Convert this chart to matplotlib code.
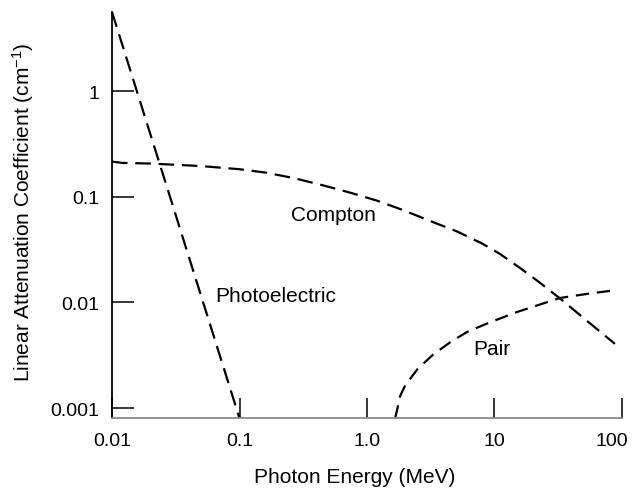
import matplotlib
matplotlib.use("Agg")
import matplotlib.pyplot as plt
from matplotlib.transforms import ScaledTranslation

plt.rcParams["font.family"] = ["Liberation Sans", "DejaVu Sans"]
plt.rcParams["mathtext.fontset"] = "custom"
plt.rcParams["mathtext.rm"] = "Liberation Sans"
plt.rcParams["mathtext.default"] = "rm"

# values (energy in MeV, mu in 1/cm)
photo_energy = [0.01, 0.1]
photo_mu = [5.6, 0.0008]

compton_energy = [0.01, 0.012, 0.02, 0.05, 0.1, 0.161, 0.267, 0.442,
                  0.723, 1.19, 1.93, 3.12, 5.06, 7.94, 11.0, 16.0, 22.0,
                  32.6, 50.0, 88.0]
compton_mu = [0.215, 0.209, 0.206, 0.195, 0.182, 0.169, 0.150, 0.129,
              0.110, 0.092, 0.0745, 0.059, 0.047, 0.0362, 0.0288, 0.0210,
              0.0158, 0.0109, 0.0071, 0.00405]

pair_energy = [1.66, 1.72, 1.82, 2.0, 2.5, 3.3, 4.5, 6.1, 9.0, 15.0,
               32.6, 55.0, 91.4]
pair_mu = [0.0008, 0.00095, 0.0013, 0.00165, 0.00235, 0.0032, 0.0042,
           0.00525, 0.0064, 0.0081, 0.0110, 0.0121, 0.0131]

x_ticks = [0.01, 0.1, 1.0, 10, 100]
x_tick_labels = ["0.01", "0.1", "1.0", "10", "100"]
y_ticks = [0.001, 0.01, 0.1, 1]
y_tick_labels = ["0.001", "0.01", "0.1", "1"]

labels = ["Compton", "Photoelectric", "Pair"]
label_x = [0.541, 0.193, 9.55]
label_y = [0.0686, 0.0115, 0.00362]

GREY = "#8a8a8a"


def main() -> None:
    fig = plt.figure(figsize=(6.35, 4.89), dpi=100)
    ax = fig.add_axes([0.1764, 0.1431, 0.8031, 0.8303])

    for xs, ys, dash in [(photo_energy, photo_mu, (7, 3.5)),
                         (compton_energy, compton_mu, (7, 3.5)),
                         (pair_energy, pair_mu, (6, 3.5))]:
        (line,) = ax.plot(xs, ys, color="black", lw=1.6)
        line.set_dashes(dash)
        line.set_clip_on(False)

    ax.set_xscale("log")
    ax.set_yscale("log")
    ax.set_xlim(0.01, 100)
    ax.set_ylim(0.000804, 5.6)

    ax.spines["top"].set_visible(False)
    ax.spines["right"].set_visible(False)
    ax.spines["left"].set_linewidth(1.3)
    ax.spines["bottom"].set_linewidth(1.3)
    ax.spines["bottom"].set_color(GREY)

    ax.set_xticks(x_ticks)
    ax.set_xticklabels(x_tick_labels)
    ax.set_yticks(y_ticks)
    ax.set_yticklabels(y_tick_labels)
    ax.minorticks_off()
    ax.tick_params(axis="x", direction="in", length=14.5, width=1.1,
                   labelsize=14, pad=10)
    ax.tick_params(axis="y", direction="in", length=16, width=1.1,
                   labelsize=14, pad=9)

    for tick, col in zip(ax.xaxis.get_major_ticks(),
                         ["black", GREY, GREY, "black", "black"]):
        tick.tick1line.set_color(col)
    for tick, col in zip(ax.yaxis.get_major_ticks(),
                         [GREY, "black", "black", GREY]):
        tick.tick1line.set_color(col)

    # keep "100" inside the figure, as in the original
    last = ax.get_xticklabels()[-1]
    last.set_transform(last.get_transform()
                       + ScaledTranslation(-7 / 72, 0, fig.dpi_scale_trans))

    for text, lx, ly in zip(labels, label_x, label_y):
        ax.text(lx, ly, text, fontsize=15, ha="center", va="center")

    ax.set_xlabel("Photon Energy (MeV)", fontsize=15, va="center")
    ax.xaxis.set_label_coords(0.476, -0.145)
    ax.set_ylabel("Linear Attenuation Coefficient (cm$^{-1}$)",
                  fontsize=15, va="center")
    ax.yaxis.set_label_coords(-0.1745, 0.51)

    fig.savefig("out.png", dpi=100)


if __name__ == "__main__":
    main()
